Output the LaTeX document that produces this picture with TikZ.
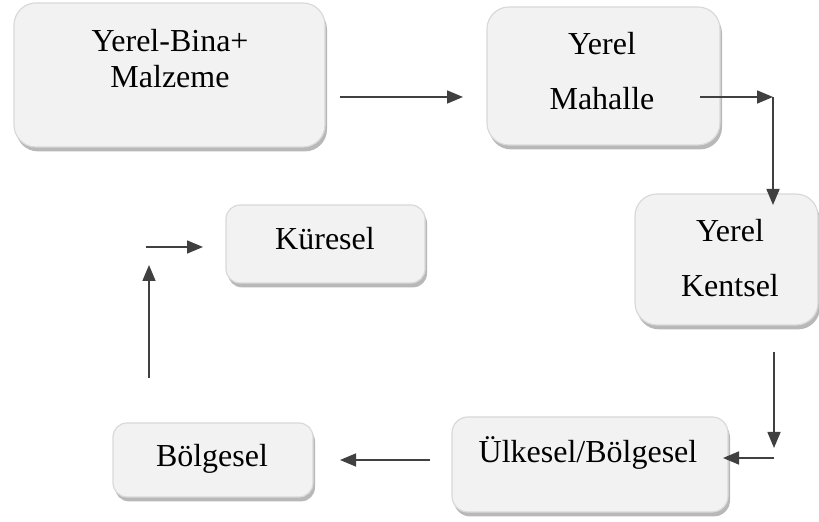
\documentclass[tikz,border=0pt]{standalone}
\usepackage{fontspec}
\setmainfont{Liberation Serif}
\usetikzlibrary{arrows.meta,shadows}
\begin{document}
\begin{tikzpicture}[x=0.5pt,y=-0.5pt,
  box/.style={draw=black!15,line width=0.6pt,fill=black!5,rounded corners=#1,
    drop shadow={shadow xshift=1pt,shadow yshift=-2.2pt,fill=black!28,opacity=1},
    inner sep=0pt,anchor=center},
  box/.default=11pt,
  lbl/.style={font=\fontsize{16}{19}\selectfont,anchor=base,inner sep=0pt},
  conn/.style={draw=black!75,line width=0.8pt,-{Triangle[length=8pt,width=6.5pt]}},
  plain/.style={draw=black!75,line width=0.8pt}]
\useasboundingbox (0,0) rectangle (819,522);
% boxes
\node[box,minimum width=155.5pt,minimum height=72pt] (b1) at (169.5,75) {};
\node[box,minimum width=116.5pt,minimum height=69pt] (b2) at (603.5,76) {};
\node[box,minimum width=91.5pt,minimum height=65.5pt] (b3) at (726.5,259.5) {};
\node[box=8pt,minimum width=138pt,minimum height=47.5pt] (b4) at (590,464.5) {};
\node[box=7pt,minimum width=100pt,minimum height=37pt] (b5) at (213,460) {};
\node[box=7pt,minimum width=99.5pt,minimum height=39pt] (b6) at (325.5,244) {};
% texts
\node[lbl] (t1a) at (170,52) {Yerel-Bina+};
\node[lbl] (t1b) at (170,88) {Malzeme};
\node[lbl] (t2a) at (602,55) {Yerel};
\node[lbl] (t2b) at (602,110) {Mahalle};
\node[lbl] (t3a) at (730,242) {Yerel};
\node[lbl] (t3b) at (730,297) {Kentsel};
\node[lbl] (t4) at (588,463) {Ülkesel/Bölgesel};
\node[lbl] (t5) at (212,467) {Bölgesel};
\node[lbl] (t6) at (325,250) {Küresel};
% connector points
\coordinate (p1s) at (340,97);
\coordinate (p1e) at (463,97);
\coordinate (p2s) at (700,97);
\coordinate (p2c) at (773,97);
\coordinate (p2e) at (773,205);
\coordinate (p3s) at (774,352);
\coordinate (p3e) at (774,448);
\coordinate (p4s) at (774,458);
\coordinate (p4e) at (723,458);
\coordinate (p5s) at (430,460);
\coordinate (p5e) at (340,460);
\coordinate (p6s) at (149,378);
\coordinate (p6e) at (149,265);
\coordinate (p7s) at (146,247);
\coordinate (p7e) at (203,247);
% connectors
\draw[conn] (p1s) -- (p1e);
\draw[conn] (p2s) -- (p2c);
\draw[conn] (p2c) -- (p2e);
\draw[conn] (p3s) -- (p3e);
\draw[conn] (p4s) -- (p4e);
\draw[conn] (p5s) -- (p5e);
\draw[conn] (p6s) -- (p6e);
\draw[conn] (p7s) -- (p7e);
\end{tikzpicture}
\end{document}
